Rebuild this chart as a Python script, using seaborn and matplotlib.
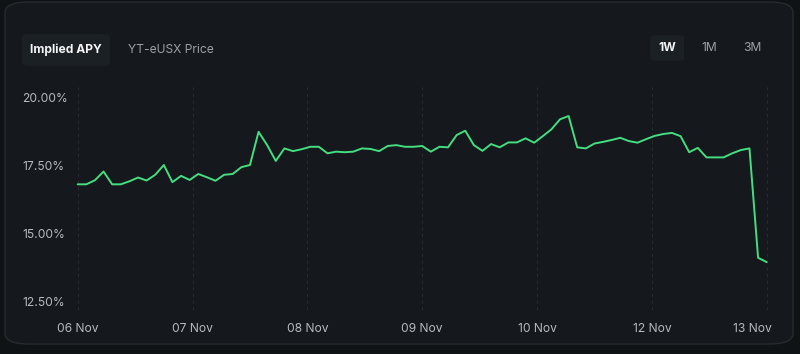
import numpy as np
import pandas as pd
import matplotlib
matplotlib.use("Agg")
import matplotlib.pyplot as plt
import matplotlib.transforms as mtransforms
from matplotlib.patches import FancyBboxPatch
import seaborn as sns

# ---- data ----
implied_apy = [16.79, 16.79, 16.94, 17.26, 16.79, 16.79, 16.90, 17.04, 16.93, 17.14,
               17.50, 16.87, 17.10, 16.95, 17.17, 17.05, 16.92, 17.14, 17.17, 17.42,
               17.50, 18.72, 18.23, 17.65, 18.11, 18.01, 18.08, 18.17, 18.17, 17.93,
               17.99, 17.97, 17.99, 18.11, 18.09, 18.01, 18.20, 18.23, 18.17, 18.17,
               18.20, 17.99, 18.17, 18.15, 18.60, 18.76, 18.23, 18.02, 18.27, 18.15,
               18.33, 18.33, 18.48, 18.32, 18.56, 18.81, 19.18, 19.30, 18.15, 18.11,
               18.29, 18.35, 18.42, 18.50, 18.38, 18.32, 18.45, 18.57, 18.64, 18.68,
               18.56, 17.97, 18.13, 17.78, 17.78, 17.78, 17.93, 18.05, 18.11, 14.09,
               13.93]
x_tick_labels = ["06 Nov", "07 Nov", "08 Nov", "09 Nov", "10 Nov", "12 Nov", "13 Nov"]
x_tick_pos = [0, 13.33, 26.67, 40, 53.33, 66.67, 80]
y_ticks = [12.5, 15.0, 17.5, 20.0]
y_tick_labels = ["12.50%", "15.00%", "17.50%", "20.00%"]
tabs_left = ["Implied APY", "YT-eUSX Price"]
tabs_right = ["1W", "1M", "3M"]

df = pd.DataFrame({"idx": np.arange(len(implied_apy)), "apy": implied_apy})

sns.set_theme(style="dark")
plt.rcParams["font.family"] = ["Inter", "DejaVu Sans"]

FS = 8.7
W, H = 800, 354
fig = plt.figure(figsize=(W / 100, H / 100), dpi=100)
fig.patch.set_facecolor("#101316")

# card
card = FancyBboxPatch((5 / W, 10 / H), 788 / W, 342 / H,
                      boxstyle="round,pad=0,rounding_size=0.03",
                      transform=fig.transFigure, facecolor="#15181c",
                      edgecolor="#262b31", linewidth=1.0, zorder=-3)
fig.patches.append(card)

# tabs
pill = FancyBboxPatch((22 / W, (H - 66) / H), 88 / W, 32 / H,
                      boxstyle="round,pad=0,rounding_size=0.008",
                      transform=fig.transFigure, facecolor="#1b2025",
                      edgecolor="none", zorder=-2)
fig.patches.append(pill)
fig.text(66 / W, 1 - 50 / H, tabs_left[0], color="#f2f4f5", fontsize=FS,
         fontweight="bold", ha="center", va="center")
fig.text(128 / W, 1 - 50 / H, tabs_left[1], color="#9aa0a6", fontsize=FS,
         ha="left", va="center")

pill2 = FancyBboxPatch((650 / W, (H - 61) / H), 34 / W, 26 / H,
                       boxstyle="round,pad=0,rounding_size=0.008",
                       transform=fig.transFigure, facecolor="#1b2025",
                       edgecolor="none", zorder=-2)
fig.patches.append(pill2)
for lbl, xc, col, wt in zip(tabs_right, [667, 709, 752],
                            ["#f2f4f5", "#9aa0a6", "#9aa0a6"],
                            ["bold", "normal", "normal"]):
    fig.text(xc / W, 1 - 48 / H, lbl, color=col, fontsize=FS, fontweight=wt,
             ha="center", va="center")

# axes
ax_l, ax_r, ax_t, ax_b = 70, 775, 85, 310
ax = fig.add_axes([ax_l / W, 1 - ax_b / H, (ax_r - ax_l) / W, (ax_b - ax_t) / H])
ax.set_facecolor("none")
ax.set_zorder(2)

sns.lineplot(data=df, x="idx", y="apy", ax=ax, color="#44de80", linewidth=1.4)

n_last = len(implied_apy) - 1
pxu = n_last / (766.7 - 77.7)
ax.set_xlim(0 - (77.7 - ax_l) * pxu, n_last + (ax_r - 766.7) * pxu)
ppu = (301 - 97) / 7.5
ax.set_ylim(12.5 - (ax_b - 301) / ppu, 20 + (97 - ax_t) / ppu)

ax.set_xticks(x_tick_pos)
ax.set_xticklabels(x_tick_labels)
ax.set_yticks(y_ticks)
ax.set_yticklabels(y_tick_labels)
ax.set_xlabel("")
ax.set_ylabel("")
for s in ax.spines.values():
    s.set_visible(False)

ax.grid(False)
for xp in x_tick_pos:
    ax.axvline(xp, color="#262b30", linewidth=0.8, linestyle=(0, (3, 3)), zorder=0)

ax.tick_params(axis="x", colors="#b4b9be", labelsize=FS, pad=9, length=0)
ax.tick_params(axis="y", colors="#b4b9be", labelsize=FS,
               pad=(ax_l - 22) * 72 / 100, length=0)
for lab in ax.get_yticklabels():
    lab.set_horizontalalignment("left")
    lab.set_color("#b4b9be")
for lab in ax.get_xticklabels():
    lab.set_color("#b4b9be")
last = ax.get_xticklabels()[-1]
last.set_transform(last.get_transform() +
                   mtransforms.ScaledTranslation(-14 / 100, 0, fig.dpi_scale_trans))

fig.savefig("out.png", dpi=100, facecolor=fig.get_facecolor())
